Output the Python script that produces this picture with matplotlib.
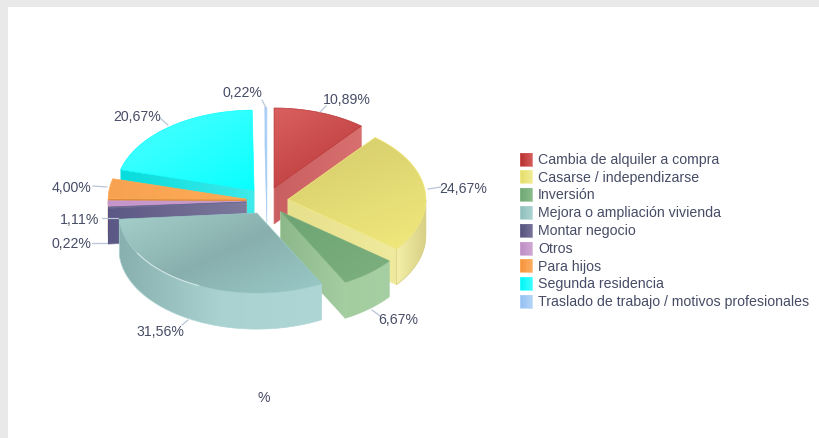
import numpy as np
import matplotlib
matplotlib.use('Agg')
import matplotlib.pyplot as plt
from matplotlib.colors import LinearSegmentedColormap
from matplotlib.patches import Polygon, Rectangle

plt.rcParams['font.family'] = ['Liberation Sans', 'DejaVu Sans']

#data
categories = ['Cambia de alquiler a compra', 'Casarse / independizarse', 'Inversión',
              'Mejora o ampliación vivienda', 'Montar negocio', 'Otros', 'Para hijos',
              'Segunda residencia', 'Traslado de trabajo / motivos profesionales']
values = [10.89, 24.67, 6.67, 31.56, 0.22, 1.11, 4.00, 20.67, 0.22]
axis_label = '%'

#layout (pixels of the 819x438 picture)
CX, CY = 267, 201
RX, RY = 138, 80
EXPLODE_X, EXPLODE_Y = 21, 13.8
DEPTH = 36
TXT = '#474c66'
label_xy = [(347, 100), (463, 189), (398, 320), (160, 332), (71, 244), (80, 220), (72, 188), (137, 117), (242, 93)]
leader_a = [(320, 112), (428, 189), (372, 310), (188, 320), (107, 243), (118, 218), (107, 187), (168, 125), (266, 108)]
leader_b = [(326, 106), (441, 187), (380, 316), (182, 325), (92, 243), (102, 218), (93, 186), (160, 118), (262, 100)]
draw_order = [8, 7, 0, 6, 5, 4, 1, 2, 3]

#gradient colours: top face, radial face, rim (first, last, direction in degrees)
top_grad = [(['#d9605f', '#b93536'], 60), (['#d4cb6c', '#f1e97c'], 70), (['#6da373', '#7db07e'], 60),
            (['#a5cfcb', '#88afad', '#99c9c7'], 65), (['#6b6790', '#6b6790'], 0), (['#c596cb', '#c99ccf'], 0),
            (['#f7a251', '#ffab55'], 0), (['#50ffff', '#08ffff'], 60), (['#a9cef6', '#a9cef6'], 0)]
face_grad = [(['#c95f60', '#d97070'], 0), (['#e6e08c', '#f0ea9e'], 0), (['#8cb88a', '#a5cda2'], 0),
             None, (['#5c5885', '#7d799c'], 0), (['#b07fb6', '#b07fb6'], 0), (['#df8a36', '#e8923c'], 0),
             (['#08dcdc', '#40eaea'], 0), (['#a9cef6', '#a9cef6'], 0)]
rim_grad = [None, (['#f4efa8', '#d5ce82'], 0), (['#a3cc9f', '#a6cfa3'], 0),
            (['#88b0ae', '#a9d2d1', '#aed6d5'], 0), (['#56527f', '#56527f'], 0), None, None, None, None]

fig = plt.figure(figsize=(8.19, 4.38), dpi=100, facecolor='#e9e9e9')
ax = fig.add_axes([0, 0, 1, 1])
ax.axis('off')
ax.add_patch(Rectangle((8, 7), 811, 431, fc='white', ec='none', zorder=0))


def shade(pts, colors, angle, z):
    # gradient clipped to a polygon
    pts = np.asarray(pts)
    x0, y0 = pts.min(axis=0)
    x1, y1 = pts.max(axis=0)
    xx, yy = np.meshgrid(np.linspace(0, 1, 60), np.linspace(0, 1, 60))
    a = np.radians(angle)
    g = xx * np.cos(a) * max(x1 - x0, 1) + yy * np.sin(a) * max(y1 - y0, 1)
    g = (g - g.min()) / max(g.max() - g.min(), 1e-9)
    cmap = LinearSegmentedColormap.from_list('g', colors)
    im = ax.imshow(g, cmap=cmap, extent=(x0, x1 + 1, y1 + 1, y0), aspect='auto',
                   interpolation='bilinear', zorder=z)
    im.set_clip_path(Polygon(pts, closed=True, transform=ax.transData))
    # thin same colour edge so the clipped border is not jagged
    ax.add_patch(Polygon(pts, closed=True, fc='none', ec=colors[-1], lw=0.5, zorder=z))


total = sum(values)
edges = np.concatenate([[0], np.cumsum(values)]) / total * 360


def rim(ox, oy, t0, t1, dy=0):
    t = np.radians(np.linspace(t0, t1, max(int(abs(t1 - t0)) * 2, 2)))
    return np.column_stack([ox + RX * np.sin(t), oy - RY * np.cos(t) + dy])


z = 1
for i in draw_order:
    t0, t1 = edges[i], edges[i + 1]
    mid = np.radians((t0 + t1) / 2)
    ox = CX + EXPLODE_X * np.sin(mid)
    oy = CY - EXPLODE_Y * np.cos(mid)

    # radial walls facing the viewer
    if face_grad[i] is not None:
        for t in (t0, t1):
            normal = np.radians(t - 90 if t == t0 else t + 90)
            if np.cos(normal) < 0:
                p = rim(ox, oy, t, t)[0]
                wall = [(ox, oy), p, (p[0], p[1] + DEPTH), (ox, oy + DEPTH)]
                shade(wall, face_grad[i][0], face_grad[i][1], z)
                z += 1

    # outer wall, only the front half of the ellipse shows
    a0, a1 = max(t0, 90), min(t1, 270)
    if rim_grad[i] is not None and a1 > a0:
        upper = rim(ox, oy, a0, a1)
        lower = rim(ox, oy, a0, a1, DEPTH)
        shade(np.vstack([upper, lower[::-1]]), rim_grad[i][0], rim_grad[i][1], z)
        z += 1

    # top
    top = np.vstack([[(ox, oy)], rim(ox, oy, t0, t1)])
    shade(top, top_grad[i][0], top_grad[i][1], z)
    z += 1

    # light catching the front edge of the biggest slice
    if i == 3:
        glint = rim(ox, oy, 205, 240)
        ax.plot(glint[:, 0], glint[:, 1], color='white', alpha=0.55, lw=0.8, zorder=z)
        z += 1

# leaders and value labels
for v, (tx, ty), (ax_, ay_), (bx, by) in zip(values, label_xy, leader_a, leader_b):
    s = f'{v:.2f}'.replace('.', ',') + '%'
    ax.plot([ax_, bx], [ay_, by], color='#b9c5d8', lw=0.9, zorder=z, solid_capstyle='round')
    ax.text(tx, ty, s, ha='center', va='center', fontsize=10.2, color=TXT, zorder=z + 1)

ax.text(264, 398, axis_label, ha='center', va='center', fontsize=10.2, color=TXT, zorder=z + 1)

# legend
legend_colors = [['#b5302f', '#d75f5e'], ['#e6dd6a', '#f2ec96'], ['#6fa874', '#8cbc8d'],
                 ['#8fbfbb', '#add4d2'], ['#56527f', '#77739a'], ['#bd8cc4', '#d0a8d4'],
                 ['#f7923a', '#fcb066'], ['#00f5f5', '#3fffff'], ['#93c0f2', '#b5d5f8']]
for k, name in enumerate(categories):
    yc = 159 + k * 17.8
    shade([(520, yc - 6.5), (532, yc - 6.5), (532, yc + 6.5), (520, yc + 6.5)], legend_colors[k], 0, z + 2)
    ax.text(538, yc + 0.8, name, ha='left', va='center', fontsize=10.18, color=TXT, zorder=z + 3)

ax.set_xlim(0, 819)
ax.set_ylim(438, 0)
fig.savefig('out.png', dpi=100, facecolor=fig.get_facecolor())
